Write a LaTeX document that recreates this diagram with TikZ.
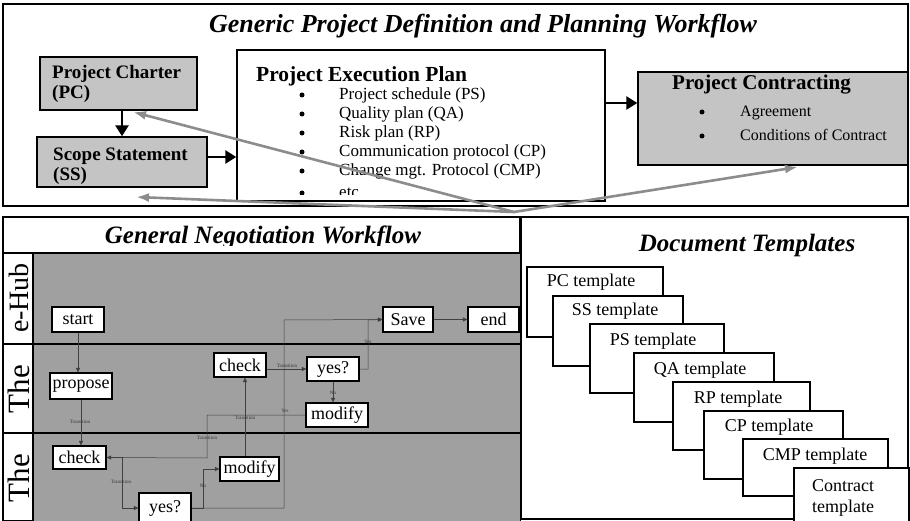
\documentclass[tikz,border=0pt]{standalone}
\usepackage{fontspec}
\setmainfont{Liberation Serif}
\usetikzlibrary{arrows.meta,fit,calc}
\definecolor{boxgray}{HTML}{C4C4C4}
\definecolor{lanegray}{HTML}{A0A0A0}
\definecolor{linkgray}{HTML}{8C8C8C}
\newcommand\fsz[1]{\fontsize{#1}{#1}\selectfont}

\begin{document}
\begin{tikzpicture}[x=1pt,y=-1pt,
  panel/.style={draw=black,line width=1.6pt},
  graybox/.style={draw=black,line width=1.4pt,fill=boxgray,inner sep=0pt},
  whitebox/.style={draw=black,line width=1.4pt,fill=white,inner sep=0pt},
  heading/.style={font=\fsz{26}\bfseries\itshape,anchor=base,inner sep=0pt},
  boxtitle/.style={font=\fsz{19}\bfseries,anchor=base west,inner sep=0pt},
  listitem/.style={font=\fsz{17},anchor=base west,inner sep=0pt},
  dot/.style={circle,fill=black,inner sep=0pt,minimum size=5pt},
  bigarrow/.style={line width=2.6pt,-{Triangle[length=11pt,width=13pt]}},
  linkarrow/.style={draw=linkgray,line width=2.6pt,-{Latex[length=13pt,width=9pt]}},
  flowbox/.style={draw=black,line width=1.2pt,fill=white,inner sep=0pt,font=\fsz{18}},
  flow/.style={draw=black!75,line width=0.5pt,-{Triangle[length=4.5pt,width=4pt]}},
  flowtag/.style={font=\fsz{5},inner sep=0pt,text=black!80},
  lanelabel/.style={rotate=90,inner sep=0pt},
  tmpl/.style={draw=black,line width=1.3pt,fill=white,inner sep=0pt},
  tmpltext/.style={font=\fsz{18},anchor=base,inner sep=0pt},
]
\useasboundingbox (0,0) rectangle (910,521);
\fill[white] (0,0) rectangle (910,521);

% ---------------- planning workflow ----------------
\draw[panel] (3,4) rectangle (908,206);
\node[heading] (maintitle) at (483,33) {Generic Project Definition and Planning Workflow};

\node[graybox,fit={(40,57)(197,110)}] (pc) {};
\node[boxtitle] (pcA) at (52,79) {Project Charter};
\node[boxtitle] (pcB) at (52,99) {(PC)};

\node[graybox,fit={(37,137)(207,187)}] (ss) {};
\node[boxtitle] (ssA) at (53,161) {Scope Statement};
\node[boxtitle] (ssB) at (53,181) {(SS)};

\node[whitebox,fit={(237,50)(605,201)}] (pep) {};
\node[boxtitle,font=\fsz{21.5}\bfseries] (pepT) at (256,82) {Project Execution Plan};
\begin{scope}
  \clip (237,50) rectangle (605,195);
  \foreach \t/\yb [count=\i] in {{Project schedule (PS)}/100,{Quality plan (QA)}/119,
      {Risk plan (RP)}/138,{Communication protocol (CP)}/157,
      {Change mgt. Protocol (CMP)}/176,{etc}/198}{
    \node[dot] (pepb\i) at (302,\yb-5) {};
    \node[listitem] (pepi\i) at (339,\yb) {\t};
  }
\end{scope}

\node[graybox,fit={(638,72)(908,165)}] (pcon) {};
\node[boxtitle,font=\fsz{21}\bfseries] (pconT) at (672,90) {Project Contracting};
\node[dot] (pconb1) at (702,112) {};
\node[listitem,font=\fsz{16}] (pconi1) at (740,117) {Agreement};
\node[dot] (pconb2) at (702,136) {};
\node[listitem,font=\fsz{16}] (pconi2) at (740,141) {Conditions of Contract};

\draw[bigarrow] (pc.south -| ss.north) -- (ss.north);
\coordinate (ssy) at (0,157);
\draw[bigarrow] (ss.east |- ssy) -- (pep.west |- ssy);
\coordinate (pepy) at (0,103);
\draw[bigarrow] (pep.east |- pepy) -- (pcon.west |- pepy);

% links from the shared hub to the documents
\coordinate (hub) at (514,212);
\coordinate (tipPC) at (133,112);
\coordinate (tipSS) at (136,197);
\coordinate (tipCon) at (798,167);
\draw[linkarrow] (hub) -- (tipPC);
\draw[linkarrow] (hub) -- (tipSS);
\draw[linkarrow] (hub) -- (tipCon);

% ---------------- negotiation workflow ----------------
\draw[panel] (3,217) rectangle (520,521);
\begin{scope}
  \clip (3,217) rectangle (520,246);
  \node[heading,font=\fsz{25}\bfseries\itshape] (negtitle) at (263,244) {General Negotiation Workflow};
\end{scope}
\fill[lanegray] (33,253) rectangle (520,521);
\draw[panel] (3,253) -- (520,253);
\draw[panel] (3,344) -- (520,344);
\draw[panel] (3,433) -- (520,433);
\draw[panel] (33,253) -- (33,521);
\node[lanelabel,font=\fsz{28}] (laneA) at (19,298) {e-Hub};
\node[lanelabel,font=\fsz{31}] (laneB) at (19,389) {The};
\node[lanelabel,font=\fsz{31}] (laneC) at (19,478) {The};

\node[flowbox,minimum width=52pt,minimum height=25pt] (start) at (78,319.5) {start};
\node[flowbox,minimum width=50pt,minimum height=25pt] (save) at (408,319.5) {Save};
\node[flowbox,minimum width=51pt,minimum height=25pt] (endn) at (493.5,319.5) {end};
\node[flowbox,minimum width=62pt,minimum height=26pt] (propose) at (81,386) {propose};
\node[flowbox,minimum width=52pt,minimum height=24pt] (check2) at (240,365) {check};
\node[flowbox,minimum width=52pt,minimum height=24pt] (yes2) at (333,369) {yes?};
\node[flowbox,minimum width=62pt,minimum height=24pt] (modify2) at (337,415) {modify};
\node[flowbox,minimum width=53pt,minimum height=23pt] (check3) at (79.5,457.5) {check};
\node[flowbox,minimum width=59pt,minimum height=24pt] (modify3) at (249.5,469) {modify};
\node[flowbox,minimum width=52pt,minimum height=30pt] (yes3) at (165,508) {yes?};

\coordinate (ysv) at (368,320);
\coordinate (yx) at (284,320);
\coordinate (nm) at (203,469);
\coordinate (mx) at (245,0);
\coordinate (mk) at (207,458);
\coordinate (cy) at (122,508);

\draw[flow] (start.south) -- (start.south |- propose.north);
\draw[flow] (propose.south) -- (propose.south |- check3.north);
\draw[flow] (yes2.west -| check2.east) -- (yes2.west);
\draw[flow] (yes2.south) -- (yes2.south |- modify2.north);
\draw[flow] (yes2.east) -| (ysv) -- (save.west);
\draw[flow] (yes3.east) -| (yx) -- (save.west);
\draw[flow] (yes3.east) -| (nm) -- (modify3.west);
\draw[flow] (modify3.north -| mx) -- (check2.south -| mx);
\draw[flow] (modify2.west) -| (mk) -- (check3.east);
\draw[flow] (check3.east) -| (cy) -- (yes3.west);
\draw[flow] (save.east) -- (endn.west);

\node[flowtag] (t1) at (80,422) {Transition};
\node[flowtag] (t2) at (287,366) {Transition};
\node[flowtag] (t3) at (333,393) {No};
\node[flowtag] (t4) at (368,342) {Yes};
\node[flowtag] (t5) at (285,411) {Yes};
\node[flowtag] (t6) at (245,418) {Transition};
\node[flowtag] (t7) at (207,438) {Transition};
\node[flowtag] (t8) at (121,482) {Transition};
\node[flowtag] (t9) at (203,486) {No};

% ---------------- document templates ----------------
\draw[panel] (521,217) rectangle (908,519);
\node[heading,font=\fsz{25}\bfseries\itshape] (doctitle) at (747,252) {Document Templates};

\node[tmpl,fit={(527,267)(663,337)}] (tPCb) {};
\node[tmpltext] (tPCt) at (591,287) {PC template};
\node[tmpl,fit={(553,296)(683,366)}] (tSSb) {};
\node[tmpltext] (tSSt) at (615,316) {SS template};
\node[tmpl,fit={(590,324)(724,393)}] (tPSb) {};
\node[tmpltext] (tPSt) at (653,345) {PS template};
\node[tmpl,fit={(634,353)(774,422)}] (tQAb) {};
\node[tmpltext] (tQAt) at (700,374) {QA template};
\node[tmpl,fit={(673,382)(810,450)}] (tRPb) {};
\node[tmpltext] (tRPt) at (738,403) {RP template};
\node[tmpl,fit={(704,411)(843,479)}] (tCPb) {};
\node[tmpltext] (tCPt) at (769,431) {CP template};
\node[tmpl,fit={(743,439)(888,496)}] (tCMPb) {};
\node[tmpltext] (tCMPt) at (815,460) {CMP template};
\node[tmpl,fit={(794,468)(909,526)}] (tCONb) {};
\node[tmpltext] (tCONt1) at (843,491) {Contract};
\node[tmpltext] (tCONt2) at (843,512) {template};
\end{tikzpicture}
\end{document}
